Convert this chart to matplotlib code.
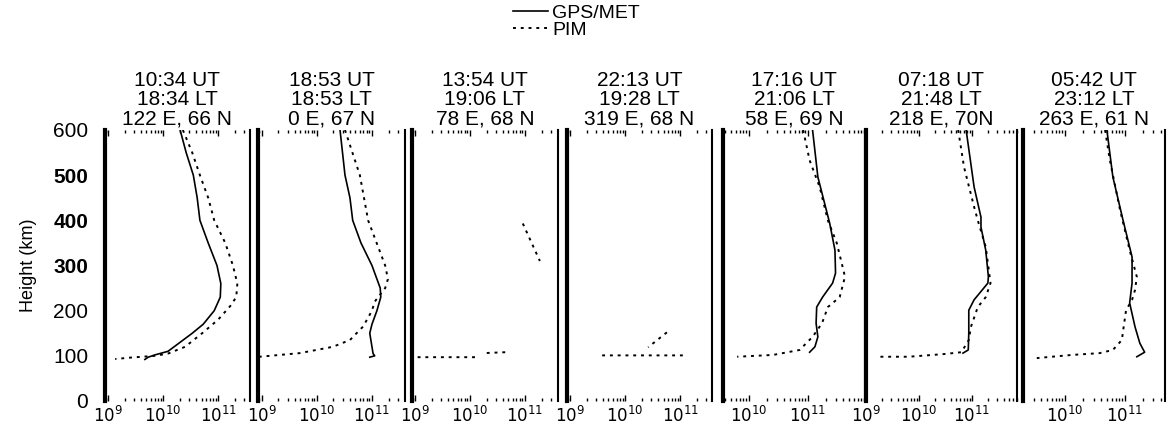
import numpy as np
import matplotlib
matplotlib.use("Agg")
import matplotlib.pyplot as plt
from matplotlib.lines import Line2D
from matplotlib.ticker import LogLocator, NullFormatter, FixedLocator

plt.rcParams['font.family'] = ['Liberation Sans', 'DejaVu Sans']

# panel headers: UT, LT, location
titles = [
    "10:34 UT\n18:34 LT\n122 E, 66 N",
    "18:53 UT\n18:53 LT\n0 E, 67 N",
    "13:54 UT\n19:06 LT\n78 E, 68 N",
    "22:13 UT\n19:28 LT\n319 E, 68 N",
    "17:16 UT\n21:06 LT\n58 E, 69 N",
    "07:18 UT\n21:48 LT\n218 E, 70N",
    "05:42 UT\n23:12 LT\n263 E, 61 N",
]

# x range of every panel, log10 of density
xlim_lo = [8.945, 8.93, 8.945, 8.945, 9.56, 9.0, 9.3]
xlim_hi = [11.58, 11.6, 11.6, 11.58, 11.97, 11.85, 11.67]

# GPS/MET profiles: height (km) and log10 Ne
gps_h = [
    [600, 550, 500, 450, 400, 350, 300, 260, 230, 200, 170, 150, 130, 110, 102, 97, 92],
    [600, 500, 450, 400, 350, 300, 250, 230, 200, 170, 150, 120, 105, 100, 97],
    [],
    [],
    [600, 496, 394, 334, 283, 261, 230, 208, 172, 142, 120, 108],
    [600, 474, 407, 385, 334, 275, 261, 224, 201, 150, 113, 106],
    [600, 496, 400, 319, 261, 217, 164, 128, 108, 98],
]
gps_ne = [
    [10.31, 10.42, 10.55, 10.62, 10.67, 10.82, 10.98, 11.05, 11.04, 10.93, 10.73, 10.53, 10.31, 10.09, 9.85, 9.73, 9.67],
    [10.42, 10.51, 10.6, 10.65, 10.8, 11.0, 11.15, 11.16, 11.09, 11.0, 10.96, 11.0, 11.02, 11.05, 10.96],
    [],
    [],
    [11.08, 11.17, 11.37, 11.46, 11.47, 11.42, 11.25, 11.15, 11.14, 11.17, 11.12, 11.03],
    [10.89, 11.04, 11.17, 11.17, 11.26, 11.31, 11.30, 11.04, 10.94, 10.94, 10.93, 10.83],
    [10.70, 10.80, 10.97, 11.12, 11.12, 11.08, 11.17, 11.25, 11.33, 11.2],
]

# PIM profiles (nan = gap)
nan = np.nan
pim_h = [
    [600, 550, 500, 450, 400, 350, 300, 260, 230, 210, 180, 150, 120, 105, 100, 96, 93],
    [600, 500, 400, 300, 270, 250, 220, 200, 165, 135, 120, 106, 98],
    [393, 310, nan, 108, 106, nan, 97, 97],
    [152, 119, nan, 101, 101],
    [600, 533, 474, 400, 350, 297, 275, 230, 208, 172, 142, 113, 102, 98],
    [600, 518, 430, 400, 341, 297, 261, 230, 208, 164, 135, 108, 104, 98, 98],
    [600, 533, 423, 334, 275, 246, 224, 201, 164, 135, 113, 106, 102, 95],
]
pim_ne = [
    [10.36, 10.53, 10.67, 10.82, 10.93, 11.13, 11.27, 11.35, 11.33, 11.22, 11.0, 10.71, 10.40, 10.09, 9.85, 9.4, 9.13],
    [10.51, 10.78, 10.93, 11.24, 11.29, 11.24, 11.05, 11.0, 10.84, 10.6, 10.29, 9.69, 8.96],
    [10.96, 11.27, nan, 10.64, 10.24, nan, 10.09, 8.96],
    [10.76, 10.42, nan, 11.05, 9.55],
    [10.92, 11.03, 11.2, 11.34, 11.49, 11.59, 11.63, 11.54, 11.34, 11.24, 11.08, 10.86, 10.41, 9.8],
    [10.74, 10.85, 11.04, 11.11, 11.26, 11.31, 11.35, 11.26, 11.11, 10.98, 10.94, 10.80, 10.48, 9.81, 9.26],
    [10.67, 10.75, 10.92, 11.08, 11.2, 11.17, 11.12, 11.02, 10.98, 10.95, 10.80, 10.58, 10.12, 9.53],
]

yticks = [0, 100, 200, 300, 400, 500, 600]

W, H = 1168, 428
fig = plt.figure(figsize=(W / 100, H / 100), dpi=100)

# panel edges in pixels
lefts = [105, 258, 412, 567, 723, 866, 1023]
rights = [250, 405, 558, 712, 865, 1017, 1165]
top_px, bot_px = 130, 401

pim_style = dict(color='black', lw=1.4, linestyle=(0, (1.5, 2.5)))
axes = []
for i in range(7):
    ax = fig.add_axes([lefts[i] / W, 1 - bot_px / H,
                       (rights[i] - lefts[i]) / W, (bot_px - top_px) / H])
    axes.append(ax)
    ax.set_xscale('log')
    if gps_h[i]:
        ax.plot(10 ** np.array(gps_ne[i]), gps_h[i], color='black', lw=1.2)
    ax.plot(10 ** np.array(pim_ne[i]), pim_h[i], **pim_style)
    ax.set_xlim(10 ** xlim_lo[i], 10 ** xlim_hi[i])
    ax.set_ylim(0, 600)

    ax.xaxis.set_major_locator(FixedLocator([1e9, 1e10, 1e11]))
    ax.xaxis.set_minor_locator(LogLocator(base=10, subs=np.arange(2, 10)))
    ax.xaxis.set_minor_formatter(NullFormatter())
    ax.set_xticklabels([r'$10^{9}$', r'$10^{10}$', r'$10^{11}$'])
    ax.tick_params(axis='x', which='both', direction='in', top=True, bottom=True,
                   labelsize=12, pad=3)
    ax.tick_params(axis='x', which='major', length=4, width=1)
    ax.tick_params(axis='x', which='minor', length=2, width=1)

    ax.spines['top'].set_visible(False)
    ax.spines['bottom'].set_visible(False)
    ax.spines['left'].set_linewidth(3)
    ax.spines['right'].set_linewidth(1.5)

    if i == 0:
        ax.set_yticks(yticks)
        ax.tick_params(axis='y', direction='in', length=0, labelsize=15, pad=12)
        for lab in ax.get_yticklabels():
            if lab.get_text() in ('300', '400', '500'):
                lab.set_fontweight('bold')
        ax.set_ylabel('Height (km)', fontsize=13, labelpad=12)
    else:
        ax.set_yticks([])

    ax.set_title(titles[i], fontsize=15, linespacing=1.0, pad=4)

handles = [Line2D([], [], color='black', lw=1.2),
           Line2D([], [], **pim_style)]
fig.legend(handles, ['GPS/MET', 'PIM'], loc='upper left',
           bbox_to_anchor=(513 / W, 1 - 4 / H), frameon=False, fontsize=14,
           borderpad=0, borderaxespad=0, handlelength=1.8, handletextpad=0.2,
           labelspacing=0.0)

fig.savefig('out.png', dpi=100)
